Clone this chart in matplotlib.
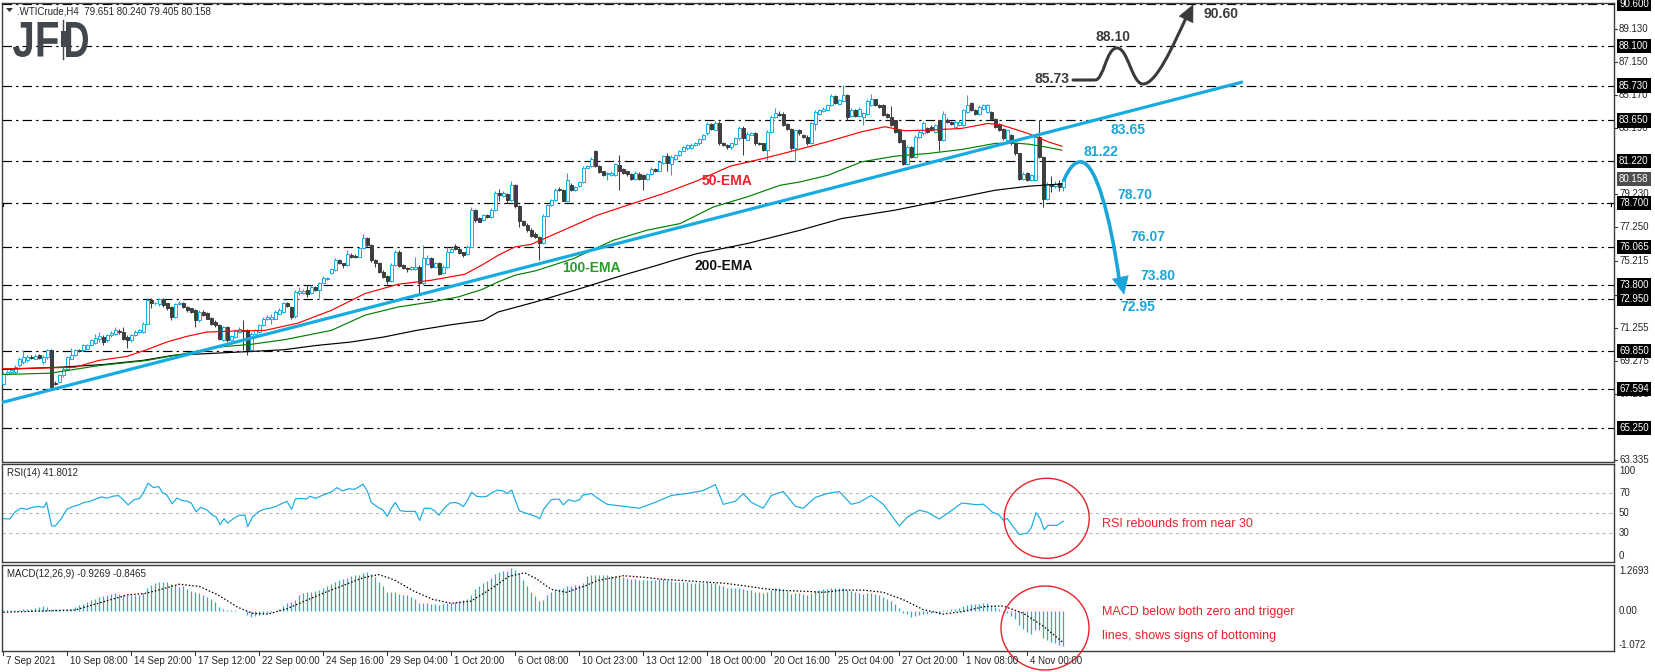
import numpy as np
import matplotlib
matplotlib.use("Agg")
import matplotlib.pyplot as plt
import matplotlib.transforms as mtransforms
from matplotlib.patches import Ellipse, PathPatch, Polygon, Rectangle
from matplotlib.path import Path
from matplotlib.textpath import TextPath
from matplotlib.font_manager import FontProperties

# ---------------------------------------------------------------- data
header_text = ".WTICrude,H4  79.651 80.240 79.405 80.158"
rsi_title = "RSI(14) 41.8012"
macd_title = "MACD(12,26,9) -0.9269 -0.8465"

time_labels = ["7 Sep 2021", "10 Sep 08:00", "14 Sep 20:00", "17 Sep 12:00", "22 Sep 00:00",
               "24 Sep 16:00", "29 Sep 04:00", "1 Oct 20:00", "6 Oct 08:00", "10 Oct 23:00",
               "13 Oct 12:00", "18 Oct 00:00", "20 Oct 16:00", "25 Oct 04:00", "27 Oct 20:00",
               "1 Nov 08:00", "4 Nov 00:00"]
bars_per_label = 16

opens = [
    67.9, 68.5, 68.6, 68.6, 69.0, 69.2, 69.3, 69.5, 69.4, 69.6,
    69.2, 69.5, 69.9, 67.95, 68.0, 68.4, 68.8, 69.4, 69.6, 69.93,
    69.9, 70.0, 70.2, 70.35, 70.6, 70.7, 70.5, 70.8, 70.85, 71.05,
    71.0, 70.7, 70.5, 70.8, 71.0, 71.0, 71.5, 72.9, 72.7, 72.65,
    72.98, 72.7, 72.5, 71.9, 72.65, 72.7, 72.5, 72.4, 72.3, 71.7,
    72.2, 72.15, 71.85, 71.6, 71.4, 70.5, 71.3, 70.5, 70.7, 71.0,
    71.1, 71.1, 69.9, 70.9, 71.0, 71.4, 71.75, 71.75, 71.8, 72.1,
    72.2, 72.7, 72.5, 71.95, 73.3, 73.3, 73.5, 73.3, 73.7, 73.5,
    73.95, 74.15, 74.5, 74.7, 75.3, 75.1, 75.0, 75.6, 75.55, 75.5,
    76.0, 76.6, 76.2, 75.3, 75.15, 74.6, 74.35, 74.05, 75.0, 75.8,
    75.0, 74.8, 74.78, 74.78, 74.9, 73.9, 75.05, 75.4, 74.9, 75.1,
    74.5, 74.9, 75.8, 76.15, 75.98, 75.75, 75.65, 76.1, 78.3, 77.8,
    77.7, 78.0, 77.85, 78.3, 79.32, 79.1, 79.25, 78.9, 79.8, 78.5,
    77.65, 77.42, 77.1, 76.88, 76.68, 76.3, 77.95, 78.57, 78.9, 79.53,
    79.5, 78.8, 79.8, 79.5, 79.7, 79.95, 80.83, 80.9, 81.8, 80.95,
    80.6, 80.45, 80.4, 80.4, 80.97, 80.73, 80.6, 80.47, 80.17, 80.47,
    80.37, 80.17, 80.47, 80.72, 80.63, 81.11, 81.5, 81.07, 81.37, 81.57,
    81.83, 81.97, 82.0, 82.17, 82.27, 82.51, 82.87, 83.46, 83.1, 83.5,
    82.3, 82.2, 82.05, 82.21, 82.57, 83.2, 82.5, 82.8, 82.9, 82.3,
    82.27, 81.87, 82.97, 83.86, 84.06, 84.06, 83.46, 83.16, 81.97, 83.1,
    82.8, 82.67, 82.3, 83.45, 84.06, 84.22, 84.3, 84.56, 85.1, 84.62,
    84.82, 85.16, 83.9, 84.3, 83.9, 83.86, 84.06, 84.56, 84.9, 84.56,
    84.56, 84.06, 83.86, 83.66, 83.07, 82.47, 81.07, 82.07, 81.47, 82.67,
    82.87, 83.17, 83.27, 82.97, 83.66, 82.47, 83.7, 83.56, 83.26, 83.36,
    83.36, 84.16, 84.66, 84.3, 84.06, 84.36, 84.16, 84.16, 83.76, 83.46,
    83.16, 82.47, 82.77, 82.27, 81.67, 80.17, 80.5, 80.07, 80.07, 82.67,
    81.47, 78.97, 79.83, 79.75, 79.91, 79.651]
highs = [
    68.6, 68.7, 68.8, 69.0, 69.5, 69.9, 69.6, 69.6, 69.65, 69.7,
    69.6, 69.97, 69.97, 68.05, 68.5, 68.9, 69.55, 70.05, 70.0, 70.0,
    70.3, 70.25, 70.6, 70.9, 71.0, 70.8, 70.85, 71.05, 71.3, 71.15,
    71.3, 70.8, 70.9, 71.1, 71.15, 71.6, 73.0, 73.0, 72.8, 73.0,
    73.0, 72.75, 72.55, 72.75, 72.85, 72.8, 72.55, 72.45, 72.35, 72.3,
    72.3, 72.2, 71.9, 71.7, 71.45, 71.35, 71.35, 70.8, 71.2, 71.3,
    71.7, 71.2, 71.0, 71.2, 71.5, 71.9, 72.0, 72.1, 72.3, 72.4,
    72.8, 72.8, 72.55, 73.5, 73.7, 73.55, 73.83, 73.8, 73.75, 74.0,
    74.35, 74.3, 74.85, 75.4, 75.35, 75.15, 75.9, 75.7, 75.65, 76.1,
    76.85, 76.7, 76.25, 75.35, 75.2, 74.7, 74.4, 75.1, 75.9, 75.9,
    75.05, 74.9, 74.95, 75.5, 75.0, 76.2, 75.6, 75.45, 75.2, 75.2,
    75.0, 76.1, 76.05, 76.25, 76.05, 75.8, 76.2, 78.45, 78.35, 77.85,
    78.05, 78.05, 78.4, 79.45, 79.55, 79.4, 79.3, 80.0, 79.85, 78.6,
    77.7, 77.5, 77.2, 76.95, 76.75, 78.05, 78.65, 78.95, 79.6, 79.65,
    79.55, 80.5, 79.9, 79.75, 80.05, 80.9, 81.0, 81.45, 81.9, 81.0,
    80.65, 80.55, 80.6, 81.1, 81.6, 80.8, 80.65, 80.5, 80.6, 80.55,
    80.45, 80.5, 80.85, 80.8, 81.25, 81.6, 81.67, 81.55, 81.65, 81.9,
    82.1, 82.25, 82.3, 82.35, 82.6, 82.85, 83.55, 83.5, 83.62, 83.6,
    82.35, 82.25, 82.3, 82.65, 83.3, 83.3, 82.95, 82.95, 82.95, 82.35,
    82.3, 83.05, 83.95, 84.4, 84.2, 84.15, 83.5, 83.2, 83.1, 83.15,
    82.85, 82.75, 83.55, 84.25, 84.35, 84.45, 84.65, 85.2, 85.15, 84.95,
    85.76, 85.2, 84.4, 84.35, 84.45, 84.15, 84.9, 85.22, 84.95, 84.6,
    84.65, 84.1, 84.5, 83.7, 83.1, 82.5, 82.15, 82.1, 82.75, 83.05,
    83.6, 83.25, 83.35, 83.45, 83.7, 84.2, 83.8, 83.6, 83.65, 83.65,
    84.35, 85.16, 84.75, 84.35, 84.55, 84.65, 84.65, 84.2, 83.8, 83.5,
    83.2, 83.1, 82.85, 82.3, 81.7, 80.55, 80.55, 80.45, 82.75, 83.66,
    81.5, 79.95, 80.3, 80.0, 80.1, 80.24]
lows = [
    67.8, 68.4, 68.5, 68.5, 68.9, 69.1, 69.2, 69.35, 69.35, 69.35,
    69.1, 69.4, 67.6, 67.8, 67.95, 68.3, 68.7, 69.35, 69.55, 69.8,
    69.85, 69.95, 70.15, 70.3, 70.4, 70.2, 70.4, 70.7, 70.8, 70.9,
    70.5, 70.05, 70.4, 70.75, 70.95, 70.95, 71.45, 72.4, 72.6, 72.55,
    72.5, 72.3, 71.7, 71.85, 72.6, 72.45, 72.2, 72.15, 71.3, 71.6,
    71.95, 71.75, 71.4, 71.3, 70.5, 70.45, 70.4, 70.45, 70.65, 70.95,
    69.9, 69.6, 69.8, 70.85, 70.95, 71.35, 71.7, 71.5, 71.75, 72.05,
    72.15, 72.5, 71.8, 71.85, 73.2, 73.25, 73.1, 73.25, 73.45, 73.0,
    73.9, 74.1, 74.45, 74.65, 75.05, 74.8, 74.95, 75.4, 75.4, 75.45,
    75.95, 76.1, 75.2, 74.9, 74.5, 74.2, 73.85, 74.0, 74.95, 74.9,
    74.75, 74.6, 74.7, 74.7, 73.3, 73.8, 75.0, 74.8, 74.85, 74.4,
    74.45, 74.85, 75.75, 75.9, 75.65, 75.5, 75.6, 76.05, 77.6, 77.55,
    77.65, 77.8, 77.8, 78.25, 78.8, 79.05, 78.7, 78.85, 78.4, 77.3,
    77.35, 76.95, 76.65, 76.6, 75.3, 76.25, 77.9, 78.5, 78.85, 79.4,
    78.8, 78.75, 79.45, 79.45, 79.65, 79.9, 80.8, 80.85, 80.85, 80.5,
    80.35, 80.07, 80.35, 80.35, 79.5, 80.45, 80.35, 80.1, 80.1, 80.1,
    79.5, 80.1, 80.4, 80.55, 80.6, 81.05, 80.6, 80.37, 81.3, 81.5,
    81.8, 81.9, 81.95, 82.1, 82.2, 82.45, 82.8, 83.1, 83.05, 82.2,
    82.1, 81.95, 81.95, 82.15, 82.5, 81.6, 82.45, 82.75, 82.2, 82.15,
    81.8, 81.3, 82.9, 83.8, 83.9, 83.3, 83.1, 81.9, 81.25, 82.8,
    82.6, 82.2, 82.25, 83.05, 84.0, 84.15, 84.25, 84.5, 84.6, 84.55,
    84.75, 83.7, 83.85, 83.85, 83.85, 83.4, 84.0, 84.5, 84.5, 84.4,
    83.9, 83.8, 83.3, 82.9, 82.3, 81.0, 81.0, 81.4, 81.4, 82.6,
    82.8, 82.9, 83.0, 82.9, 81.8, 82.4, 83.5, 83.4, 83.2, 83.3,
    83.3, 84.1, 84.2, 84.0, 84.0, 84.3, 84.1, 83.7, 83.2, 83.0,
    82.5, 82.4, 82.2, 81.6, 80.1, 80.1, 80.0, 80.0, 80.0, 81.4,
    78.47, 78.9, 79.37, 79.6, 79.4, 79.405]
closes = [
    68.5, 68.6, 68.7, 68.9, 69.4, 69.5, 69.5, 69.45, 69.55, 69.45,
    69.5, 69.9, 67.7, 67.9, 68.4, 68.8, 69.5, 69.6, 69.9, 69.85,
    70.2, 70.2, 70.5, 70.65, 70.75, 70.4, 70.8, 70.95, 71.1, 70.98,
    70.6, 70.5, 70.8, 71.0, 71.1, 71.5, 72.9, 72.7, 72.72, 72.95,
    72.6, 72.4, 71.9, 72.65, 72.75, 72.5, 72.3, 72.2, 71.7, 72.2,
    72.0, 71.8, 71.5, 71.4, 70.6, 71.3, 70.5, 70.75, 71.1, 71.2,
    71.05, 69.9, 70.9, 71.1, 71.4, 71.8, 71.9, 71.9, 72.2, 72.3,
    72.7, 72.55, 71.9, 73.4, 73.45, 73.45, 73.25, 73.7, 73.5, 73.95,
    74.2, 74.25, 74.75, 75.3, 75.1, 75.0, 75.65, 75.5, 75.5, 76.0,
    76.6, 76.2, 75.3, 75.1, 74.6, 74.3, 74.05, 75.0, 75.8, 74.95,
    74.8, 74.78, 74.88, 74.88, 73.9, 75.4, 75.42, 74.9, 75.1, 74.45,
    74.9, 75.8, 75.95, 75.98, 75.72, 75.6, 76.1, 78.3, 77.7, 77.6,
    77.98, 77.85, 78.3, 79.3, 79.18, 79.3, 78.9, 79.8, 78.5, 77.65,
    77.42, 77.08, 76.75, 76.68, 76.3, 77.95, 78.57, 78.87, 79.5, 79.47,
    78.85, 80.1, 79.5, 79.68, 79.98, 80.83, 80.92, 81.33, 80.9, 80.57,
    80.41, 80.47, 80.5, 81.03, 80.63, 80.53, 80.43, 80.17, 80.5, 80.17,
    80.17, 80.43, 80.77, 80.63, 81.17, 81.5, 81.11, 81.47, 81.57, 81.83,
    82.03, 82.17, 82.17, 82.27, 82.51, 82.77, 83.46, 83.16, 83.5, 82.27,
    82.17, 82.03, 82.27, 82.57, 83.2, 82.57, 82.86, 82.9, 82.27, 82.23,
    81.87, 82.97, 83.86, 84.1, 83.96, 83.36, 83.16, 81.97, 83.06, 82.87,
    82.67, 82.27, 83.47, 84.16, 84.26, 84.36, 84.56, 85.1, 84.66, 84.86,
    85.16, 83.86, 84.3, 83.9, 84.36, 84.1, 84.82, 84.9, 84.56, 84.46,
    83.96, 83.86, 83.36, 82.97, 82.37, 81.07, 82.07, 81.47, 82.67, 82.97,
    83.47, 82.97, 83.07, 83.37, 82.47, 84.06, 83.56, 83.46, 83.56, 83.56,
    84.26, 84.56, 84.26, 84.06, 84.46, 84.56, 84.56, 83.76, 83.26, 83.06,
    82.57, 83.06, 82.27, 81.67, 80.17, 80.47, 80.07, 80.37, 82.67, 81.47,
    78.97, 79.87, 79.75, 79.83, 79.67, 80.158]

ema50_points = [(-0.8, 68.79), (11.7, 68.85), (18, 68.89), (24, 69.3), (30.8, 69.53), (35.8, 69.93),
                (40.8, 70.39), (45.8, 70.73), (50.8, 70.99), (57.5, 71.05), (65.4, 71.09), (73.7, 71.53),
                (82, 72.29), (90.4, 73.29), (98.7, 73.85), (107, 74.09), (115.4, 74.45), (119.6, 74.99),
                (123.7, 75.58), (127.9, 76.08), (132, 76.24), (140, 77.08), (148.4, 77.97), (156.7, 78.63),
                (165, 79.27), (173.4, 80.03), (181.7, 80.91), (190, 81.37), (198.2, 81.87), (206, 82.37),
                (214.6, 82.97), (220.4, 83.27), (225.4, 83.03), (231.2, 83.07), (239.6, 83.17),
                (246.2, 83.47), (249.6, 83.37), (256.2, 82.87), (261.2, 82.37), (264.6, 82.11)]
ema100_points = [(-0.8, 68.45), (11.7, 68.53), (24, 68.99), (35.8, 69.29), (45, 69.69), (53.3, 70.09),
                 (61.7, 70.25), (70.4, 70.54), (82, 71.09), (90.4, 72.0), (98.7, 72.49), (107, 72.79),
                 (113.7, 73.09), (119.6, 73.53), (123.7, 73.99), (127.9, 74.39), (133, 74.65),
                 (142.5, 75.38), (152.5, 76.48), (160.9, 77.08), (169.2, 77.48), (177.5, 78.47),
                 (185.9, 79.07), (194.2, 79.77), (199.2, 79.97), (206.2, 80.37), (214.6, 81.17),
                 (222.9, 81.51), (231.2, 81.67), (239.6, 81.91), (247.9, 82.27), (252.1, 82.31),
                 (256.2, 82.23), (260.4, 82.07), (264.6, 81.87)]
ema200_points = [(-0.8, 68.75), (15, 68.9), (25, 69.05), (35, 69.3), (42.5, 69.6), (53.3, 69.73),
                 (61.7, 69.83), (70, 69.93), (78.3, 70.19), (86.7, 70.39), (95, 70.69), (103.3, 71.09),
                 (111.7, 71.42), (120, 71.69), (123.7, 72.19), (133, 72.79), (145, 73.65), (155, 74.4),
                 (163, 74.95), (167.5, 75.28), (173.4, 75.68), (185.9, 76.28), (199.2, 77.08),
                 (209.6, 77.78), (222.9, 78.28), (231.2, 78.68), (239.6, 79.07), (247.9, 79.47),
                 (256.2, 79.71), (264.6, 79.85)]
trendline_points = [(-0.825, 66.75), (309.9, 85.95)]

levels = [90.60, 88.10, 85.73, 83.65, 81.22, 78.70, 76.065, 73.80, 72.95, 69.85, 67.594, 65.25]
level_labels = ["90.600", "88.100", "85.730", "83.650", "81.220", "78.700", "76.065", "73.800",
                "72.950", "69.850", "67.594", "65.250"]
last_price = 80.158
marked_level = 78.70
price_ticks = [89.130, 87.150, 85.170, 83.190, 79.230, 77.250, 75.215, 73.235, 71.255, 69.275,
               67.295, 63.335]

rsi_points = [
    (0, 44.4), (1.6, 44), (3, 51.4), (4.4, 55), (5.9, 54), (7.3, 56), (8.7, 56.7), (10.2, 56),
    (10.8, 61), (12.1, 37), (13, 37), (14.5, 44.4), (15.9, 54), (17.4, 56.7), (18.8, 58.4),
    (20.2, 60.9), (21.7, 62), (23.1, 64.4), (24.5, 66.5), (26, 65.4), (27.4, 67.2), (28.8, 67.9),
    (29.8, 64.4), (31.2, 58.4), (32.7, 63.7), (34.1, 65), (35.1, 71.4), (36.2, 80.5), (37.5, 76),
    (38.9, 77), (39.8, 70.7), (40.8, 69), (42.2, 59.5), (43.4, 65.4), (44.6, 63), (46.1, 62),
    (47, 60.2), (48.2, 51.4), (49.4, 56), (50.9, 53.2), (52.3, 47.9), (53.2, 46.1), (54.2, 38.4),
    (55.2, 44.4), (56.1, 39.8), (57.5, 44.4), (59, 47.9), (60.4, 47.9), (61.1, 36.3), (62.3, 46.1),
    (63.8, 51.4), (65.2, 54), (66.6, 55), (68.1, 56.7), (69.5, 59.5), (70.9, 62), (72.1, 54),
    (73, 64.4), (74.3, 65), (75.7, 64.4), (76.7, 67.2), (78.1, 65), (79.6, 67.9), (81, 70),
    (82.4, 72.5), (83.4, 76), (84.8, 72.5), (86.3, 74.9), (87.7, 74.2), (88.6, 76), (89.9, 79.5),
    (91, 72.5), (92, 60.9), (93.4, 56.7), (94.9, 53.2), (96, 46.8), (97, 54.9), (98, 60.9),
    (99.2, 52.5), (100.6, 51.8), (103, 51.8), (104.1, 42.6), (105.2, 54.9), (106.8, 54.9),
    (107.8, 52.5), (108.9, 47.9), (110.2, 54.9), (111.6, 60.2), (113, 60.9), (114, 59.5),
    (115, 56.7), (115.9, 62), (117.1, 71.4), (118.3, 67.2), (119.6, 66.5), (120.9, 67.2),
    (122.1, 70.7), (123.6, 73.5), (125, 72.5), (126, 70), (127.1, 73.5), (127.9, 64.4),
    (129, 52.5), (130.3, 50.4), (131.7, 48.6), (133.1, 46.8), (134.1, 44.4), (135.1, 54),
    (137, 63.7), (138.9, 64.4), (140, 58.4), (141.3, 63.7), (142.7, 62), (144.1, 63.7),
    (144.8, 68.2), (147, 70), (148.5, 65.4), (151, 59), (155, 57), (159, 55), (163, 61),
    (167, 68), (171, 70), (175, 73), (178, 79), (180, 59), (183, 62), (185, 70), (187, 61),
    (190, 55), (192, 68), (195, 72), (198, 57), (200, 55), (203, 66), (206, 70), (209, 72),
    (212, 59), (214, 61), (217, 68), (220, 59), (222, 48), (224, 37), (226, 46), (229, 53),
    (231, 51), (234, 44), (236.7, 51.6), (239.6, 60.3), (241.2, 59.6), (243.4, 58.5),
    (245, 59.2), (246.2, 55), (247.4, 50.5), (248.7, 49.1), (250, 42.9), (251, 44.6),
    (252.4, 36.6), (254, 28.3), (256, 29.7), (257, 35.2), (258.2, 50.5), (259.2, 44.6),
    (260.2, 33.1), (261.2, 37.6), (263.4, 37.6), (265, 41.8)]
rsi_levels = [70, 50, 30]

macd_hist = [
    0.03, 0.03, 0.04, 0.05, 0.05, 0.06, 0.07, 0.08, 0.10, 0.13,
    0.16, 0.12, 0.07, 0.06, 0.06, 0.07, 0.07, 0.08, 0.12, 0.17,
    0.21, 0.25, 0.30, 0.35, 0.40, 0.43, 0.45, 0.47, 0.49, 0.48,
    0.46, 0.45, 0.45, 0.45, 0.46, 0.50, 0.63, 0.72, 0.77, 0.80,
    0.80, 0.80, 0.74, 0.72, 0.66, 0.68, 0.62, 0.56, 0.52, 0.49,
    0.46, 0.38, 0.33, 0.26, 0.12, 0.06, 0.03, 0.03, 0.03, 0.02,
    0.00, -0.10, -0.15, -0.13, -0.09, -0.06, -0.03, -0.01, 0.00, 0.07,
    0.15, 0.22, 0.26, 0.31, 0.45, 0.50, 0.52, 0.54, 0.56, 0.58,
    0.65, 0.70, 0.74, 0.80, 0.85, 0.87, 0.91, 0.95, 0.98, 1.00,
    1.05, 1.08, 1.03, 0.93, 0.80, 0.68, 0.52, 0.52, 0.52, 0.47,
    0.46, 0.44, 0.40, 0.35, 0.22, 0.23, 0.22, 0.21, 0.21, 0.17,
    0.19, 0.22, 0.24, 0.26, 0.28, 0.31, 0.33, 0.45, 0.60, 0.70,
    0.77, 0.82, 0.92, 1.02, 1.07, 1.09, 1.11, 1.17, 1.12, 1.04,
    0.85, 0.68, 0.52, 0.42, 0.28, 0.32, 0.45, 0.52, 0.58, 0.60,
    0.63, 0.68, 0.70, 0.71, 0.72, 0.77, 0.95, 1.00, 1.00, 0.99,
    1.00, 0.98, 0.97, 0.96, 0.95, 0.93, 0.90, 0.88, 0.87, 0.86,
    0.85, 0.85, 0.86, 0.86, 0.87, 0.88, 0.85, 0.82, 0.80, 0.80,
    0.80, 0.79, 0.78, 0.77, 0.77, 0.78, 0.80, 0.78, 0.77, 0.72,
    0.68, 0.64, 0.63, 0.63, 0.64, 0.60, 0.58, 0.57, 0.54, 0.52,
    0.50, 0.53, 0.58, 0.63, 0.63, 0.60, 0.56, 0.48, 0.50, 0.50,
    0.48, 0.45, 0.50, 0.55, 0.58, 0.60, 0.62, 0.65, 0.64, 0.64,
    0.65, 0.58, 0.55, 0.52, 0.50, 0.48, 0.50, 0.50, 0.47, 0.44,
    0.38, 0.33, 0.28, 0.20, 0.10, -0.03, -0.08, -0.14, -0.12, -0.10,
    -0.06, -0.06, -0.04, -0.02, -0.06, 0.03, 0.05, 0.06, 0.07, 0.09,
    0.14, 0.18, 0.20, 0.20, 0.21, 0.22, 0.22, 0.18, 0.12, 0.06,
    -0.02, -0.04, -0.12, -0.20, -0.38, -0.48, -0.57, -0.62, -0.50, -0.50,
    -0.72, -0.78, -0.82, -0.86, -0.90, -0.93]
signal_points = [
    (0, -0.02), (18, 0.04), (23, 0.2), (31, 0.45), (35.5, 0.49), (39.4, 0.6), (44, 0.74),
    (49, 0.68), (53.7, 0.45), (58.5, 0.12), (62.3, -0.05), (66.2, -0.07), (71, 0.08),
    (75.7, 0.3), (80.5, 0.52), (85.3, 0.72), (90.1, 0.92), (93.9, 1.0), (97.7, 0.86),
    (102.5, 0.56), (107.3, 0.33), (112.1, 0.22), (116.9, 0.28), (121.7, 0.6), (126.4, 0.95),
    (130.3, 1.05), (133.1, 0.9), (137, 0.6), (140.8, 0.52), (145.6, 0.7), (148.5, 0.84),
    (155, 0.97), (160, 0.93), (165, 0.87), (170, 0.84), (175, 0.8), (180, 0.77), (185, 0.7),
    (190, 0.62), (195, 0.57), (200, 0.55), (205, 0.52), (210, 0.58), (215, 0.58), (220, 0.52),
    (225, 0.32), (230, 0.05), (235, -0.07), (240, 0.0), (245, 0.13), (250, 0.15),
    (255, -0.05), (260, -0.4), (265, -0.8465)]
macd_scale = ["1.2693", "0.00", "-1.072"]

labels_blue = [("83.65", 1128, 129.5), ("81.22", 1101, 152), ("78.70", 1135, 195),
               ("76.07", 1148, 237), ("73.80", 1158, 276), ("72.95", 1138, 307)]
labels_black = [("85.73", 1052, 79), ("88.10", 1113, 37), ("90.60", 1221, 14)]
rsi_note = "RSI rebounds from near 30"
macd_note = ["MACD below both zero and trigger", "lines, shows signs of bottoming"]

# ---------------------------------------------------------------- style
W, H = 1655, 672
FONT = "Liberation Sans"
CANDLE_BLUE = "#0AAFE3"
DARK = "#3f3f3f"
LINE_BLUE = "#17ACE0"
NOTE_BLUE = "#1BA6DA"
RED = "#E8222B"
FRAME = "#3c3c3c"
AXTXT = "#262626"
LOGO = "#42474e"

fig = plt.figure(figsize=(W / 100, H / 100), dpi=100)
fig.patch.set_facecolor("white")
PX = mtransforms.Affine2D().scale(1.0 / W, -1.0 / H).translate(0, 1) + fig.transFigure

X_LEFT, X_RIGHT = 2, 1614
BAR0, BARW = 3.3, 4.0


def rect(top, bottom):
    return [X_LEFT / W, 1 - bottom / H, (X_RIGHT - X_LEFT) / W, (bottom - top) / H]


xlim = ((X_LEFT - BAR0) / BARW, (X_RIGHT - BAR0) / BARW)

ax_p = fig.add_axes(rect(3, 461.5))
ax_r = fig.add_axes(rect(464, 562.3))
ax_m = fig.add_axes(rect(564.7, 651))
for ax in (ax_p, ax_r, ax_m):
    ax.set_xlim(*xlim)
    ax.set_xticks([])
    ax.set_yticks([])
    ax.set_facecolor("white")
    for s in ax.spines.values():
        s.set_color(FRAME)
        s.set_linewidth(1.0)
ax_p.set_ylim(63.25, 90.67)
ax_r.set_ylim(0, 100)
ax_m.set_ylim(-1.072, 1.2693)


def ftext(x, y, s, **kw):
    kw.setdefault("family", FONT)
    return fig.text(x / W, 1 - y / H, s, **kw)


def fline(xs, ys, **kw):
    fig.add_artist(plt.Line2D([v / W for v in xs], [1 - v / H for v in ys], **kw))


# ---------------------------------------------------------------- price panel
for lv in levels:
    ax_p.axhline(lv, color="black", lw=0.85, ls=(0, (8, 3.5, 2, 3.5)), zorder=1)

o = np.array(opens)
hi = np.array(highs)
lo = np.array(lows)
c = np.array(closes)
n = min(len(o), len(hi), len(lo), len(c))
o, hi, lo, c = o[:n], hi[:n], lo[:n], c[:n]
xb = np.arange(n)
up = c >= o
ax_p.vlines(xb[up], lo[up], hi[up], color=CANDLE_BLUE, lw=0.75, zorder=3)
ax_p.vlines(xb[~up], lo[~up], hi[~up], color=DARK, lw=0.75, zorder=3)
body_lo = np.minimum(o, c)
body_h = np.maximum(np.abs(c - o), 0.03)
ax_p.bar(xb[up], body_h[up], bottom=body_lo[up], width=0.72, facecolor="white",
         edgecolor=CANDLE_BLUE, linewidth=0.7, zorder=4)
ax_p.bar(xb[~up], body_h[~up], bottom=body_lo[~up], width=0.72, facecolor=DARK,
         edgecolor=DARK, linewidth=0.7, zorder=4)

for pts, col in ((ema200_points, "black"), (ema100_points, "#008000"), (ema50_points, "#FF0000")):
    a = np.array(pts)
    ax_p.plot(a[:, 0], a[:, 1], color=col, lw=0.85, zorder=5)
tl = np.array(trendline_points)
ax_p.plot(tl[:, 0], tl[:, 1], color=LINE_BLUE, lw=2.3, zorder=6, solid_capstyle="butt")

# small bracket markers on the marked level (left and right ends)
ym = 4.2 + (90.6 - marked_level) * 16.72
fline([3, 3, 7], [ym + 3, ym, ym], color="black", lw=0.8)
fline([1607, 1611, 1611], [ym, ym, ym + 3], color="black", lw=0.8)

# EMA labels
ftext(727, 181, "50-EMA", color=RED, fontsize=10, weight="bold", ha="center", va="center")
ftext(591, 268, "100-EMA", color="#2A9A2A", fontsize=10, weight="bold", ha="center", va="center")
ftext(724, 266, "200-EMA", color="#111111", fontsize=10, weight="bold", ha="center", va="center")

for s, x, y in labels_blue:
    ftext(x, y, s, color=NOTE_BLUE, fontsize=10, weight="bold", ha="center", va="center")
for s, x, y in labels_black:
    ftext(x, y, s, color="#3a3a3a", fontsize=10, weight="bold", ha="center", va="center")


def arrow_head(tip, prev, length, half_w, color):
    tip = np.array(tip, float)
    d = tip - np.array(prev, float)
    d /= np.hypot(*d)
    p = np.array([-d[1], d[0]])
    base = tip - d * length
    poly = Polygon([tip, base + p * half_w, base - p * half_w], closed=True,
                   transform=PX, fc=color, ec=color, lw=0.5)
    fig.add_artist(poly)


# blue projected path
bverts = [(1064, 180), (1070, 166), (1076, 161), (1082, 162),
          (1096, 165), (1110, 215), (1119, 278)]
bcodes = [Path.MOVETO, Path.CURVE4, Path.CURVE4, Path.CURVE4, Path.CURVE4, Path.CURVE4, Path.CURVE4]
fig.add_artist(PathPatch(Path(bverts, bcodes), transform=PX, fc="none", ec=NOTE_BLUE, lw=2.6,
                         capstyle="round"))
arrow_head((1124, 294), (1117, 262), 17, 8, NOTE_BLUE)

# black projected path
kverts = [(1073, 80), (1095, 80), (1104, 80), (1106, 48), (1117, 48),
          (1128, 48), (1132, 84), (1143, 84), (1156, 84), (1172, 48), (1186, 18)]
kcodes = [Path.MOVETO, Path.LINETO, Path.CURVE4, Path.CURVE4, Path.CURVE4, Path.CURVE4,
          Path.CURVE4, Path.CURVE4, Path.CURVE4, Path.CURVE4, Path.CURVE4]
fig.add_artist(PathPatch(Path(kverts, kcodes), transform=PX, fc="none", ec="#3a3a3a", lw=2.2,
                         capstyle="round"))
arrow_head((1193, 5), (1182, 28), 16, 7.5, "#3a3a3a")

# ---------------------------------------------------------------- RSI panel
for lv in rsi_levels:
    ax_r.axhline(lv, color="#b8b8b8", lw=0.8, ls=(0, (3, 3)), zorder=1)
ra = np.array(rsi_points)
ax_r.plot(ra[:, 0], ra[:, 1], color=LINE_BLUE, lw=0.85, zorder=3)

# ---------------------------------------------------------------- MACD panel
mh = np.array(macd_hist)
xm = np.arange(len(mh))
ax_m.vlines(xm, 0, mh, color="#16B0E2", lw=0.9, zorder=2)
sa = np.array(signal_points)
ax_m.plot(sa[:, 0], sa[:, 1], color="black", lw=0.9, ls=(0, (1.2, 1.6)), zorder=3)

# ---------------------------------------------------------------- right scale
tp = mtransforms.blended_transform_factory(fig.transFigure, ax_p.transData)
for v in price_ticks:
    fig.text(1619 / W, v, f"{v:.3f}", transform=tp, family=FONT, fontsize=7, color=AXTXT,
             va="center", ha="left")
    fig.add_artist(plt.Line2D([1614 / W, 1617 / W], [v, v], transform=tp, color=FRAME, lw=0.8))
for v, s in zip(levels, level_labels):
    fig.text(1619 / W, v, s, transform=tp, family=FONT, fontsize=7, color="white",
             va="center", ha="left",
             bbox=dict(boxstyle="square,pad=0.22", fc="black", ec="none"))
fig.text(1619 / W, last_price, f"{last_price:.3f}", transform=tp, family=FONT, fontsize=7,
         color="white", va="center", ha="left",
         bbox=dict(boxstyle="square,pad=0.22", fc="#4d4d4d", ec="none"))

tr = mtransforms.blended_transform_factory(fig.transFigure, ax_r.transData)
for v in rsi_levels:
    fig.text(1619 / W, v, str(v), transform=tr, family=FONT, fontsize=7, color=AXTXT,
             va="center", ha="left")
ftext(1619, 470.5, "100", fontsize=7, color=AXTXT, va="center")
ftext(1619, 556, "0", fontsize=7, color=AXTXT, va="center")
ftext(1619, 571.5, macd_scale[0], fontsize=7, color=AXTXT, va="center")
tm = mtransforms.blended_transform_factory(fig.transFigure, ax_m.transData)
fig.text(1619 / W, 0.0, macd_scale[1], transform=tm, family=FONT, fontsize=7, color=AXTXT,
         va="center", ha="left")
ftext(1619, 644.5, macd_scale[2], fontsize=7, color=AXTXT, va="center")

# ---------------------------------------------------------------- time axis
tx = mtransforms.blended_transform_factory(ax_m.transData, fig.transFigure)
for k, lab in enumerate(time_labels):
    xi = k * bars_per_label
    fig.add_artist(plt.Line2D([xi, xi], [1 - 651 / H, 1 - 655 / H], transform=tx,
                              color=FRAME, lw=0.8))
    fig.text(xi + 0.6, 1 - 661.5 / H, lab, transform=tx, family=FONT, fontsize=7,
             color=AXTXT, va="center", ha="left")

# ---------------------------------------------------------------- titles / notes
ftext(17, 11, header_text, fontsize=7, color=AXTXT, va="center")
fig.add_artist(Polygon([(6, 8), (13, 8), (9.5, 12)], closed=True, transform=PX, fc="#333333",
                       ec="none"))
ftext(7, 473, rsi_title, fontsize=7, color=AXTXT, va="center")
ftext(7, 574, macd_title, fontsize=7, color=AXTXT, va="center")

fig.add_artist(Ellipse((1046.7, 518.3), 85, 80, transform=PX, fill=False, ec=RED, lw=1.0))
fig.add_artist(Ellipse((1045, 628), 88, 84, transform=PX, fill=False, ec=RED, lw=1.0))
ftext(1102, 524, rsi_note, fontsize=9, color=RED, va="center")
ftext(1102, 612, macd_note[0], fontsize=9, color=RED, va="center")
ftext(1102, 636.5, macd_note[1], fontsize=9, color=RED, va="center")


# JFD logo: "JF" + candle + "D"
def logo_part(txt, x0, x1, y_top, y_bot):
    tpath = TextPath((0, 0), txt, size=48, prop=FontProperties(family=FONT, weight="bold"))
    ext = tpath.get_extents()
    sx = (x1 - x0) / ext.width
    sy = (y_bot - y_top) / ext.height
    trn = (mtransforms.Affine2D().translate(-ext.x0, -ext.y0).scale(sx, -sy)
           .translate(x0, y_bot) + PX)
    fig.add_artist(PathPatch(tpath, transform=trn, fc=LOGO, ec="none"))


logo_part("JF", 13, 58, 22, 57)
logo_part("D", 66, 88, 22, 57)
fig.add_artist(Rectangle((60.5, 31), 5, 16, transform=PX, fc=LOGO, ec="none"))
fline([63, 63], [20, 59], color=LOGO, lw=1.0)

fig.savefig("out.png", dpi=100, facecolor="white")
